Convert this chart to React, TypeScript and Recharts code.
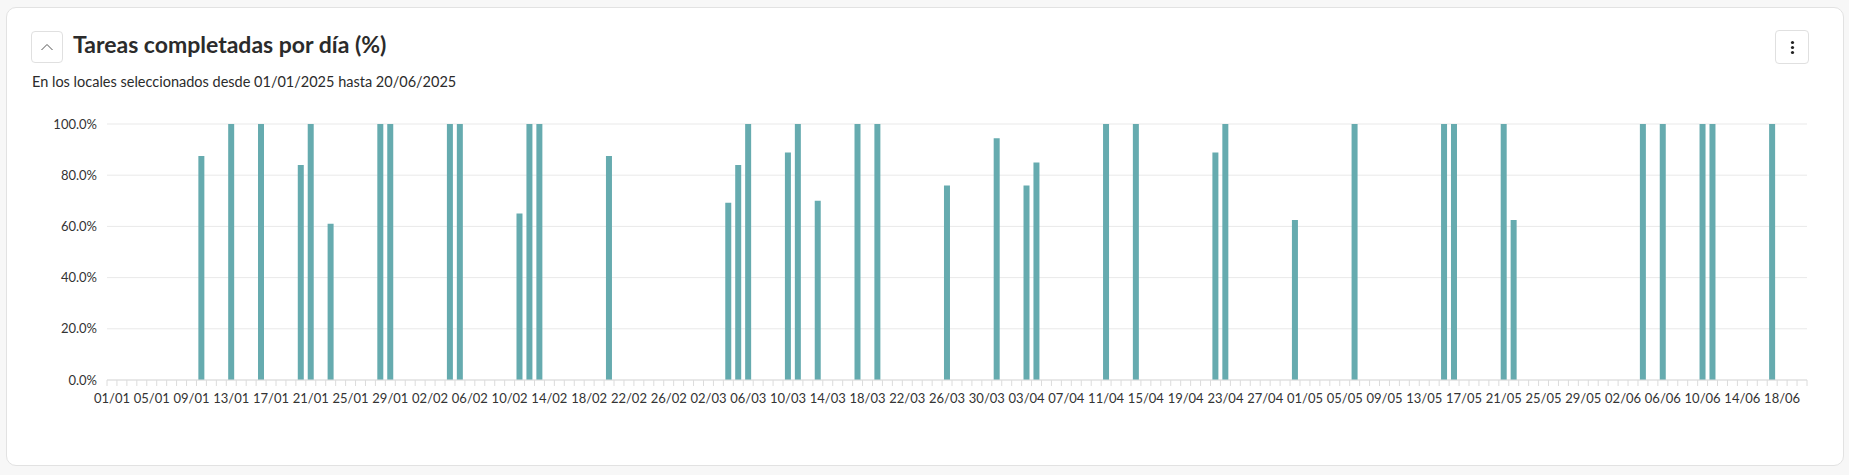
import React from "react";
import { BarChart, Bar, XAxis, YAxis, CartesianGrid } from "recharts";

const TITLE = "Tareas completadas por día (%)";
const SUBTITLE = "En los locales seleccionados desde 01/01/2025 hasta 20/06/2025";

const MONTHS = ["01", "02", "03", "04", "05", "06"];
const MONTH_DAYS = [31, 28, 31, 30, 31, 20];

const completedDays = [
  "10/01", "13/01", "16/01", "20/01", "21/01", "23/01", "28/01", "29/01",
  "04/02", "05/02", "11/02", "12/02", "13/02", "20/02",
  "04/03", "05/03", "06/03", "10/03", "11/03", "13/03", "17/03", "19/03", "26/03", "31/03",
  "03/04", "04/04", "11/04", "14/04", "22/04", "23/04", "30/04",
  "06/05", "15/05", "16/05", "21/05", "22/05",
  "04/06", "06/06", "10/06", "11/06", "17/06",
];
const completedValues = [
  87.5, 100, 100, 84, 100, 61, 100, 100,
  100, 100, 65, 100, 100, 87.5,
  69.2, 84, 100, 88.9, 100, 70, 100, 100, 76, 94.4,
  76, 85, 100, 100, 88.9, 100, 62.5,
  100, 100, 100, 100, 62.5,
  100, 100, 100, 100, 100,
];
const yTicks = [0, 20, 40, 60, 80, 100];

const categories: string[] = [];
MONTHS.forEach((m, mi) => {
  for (let d = 1; d <= MONTH_DAYS[mi]; d++) {
    categories.push(String(d).padStart(2, "0") + "/" + m);
  }
});

const data = categories.map((c) => {
  const k = completedDays.indexOf(c);
  return { day: c, value: k >= 0 ? completedValues[k] : null };
});

const W = 1849;
const H = 475;
const MARGIN = { top: 124, right: 42, bottom: 65, left: 47 };
const Y_W = 60;
const PLOT_W = W - MARGIN.left - MARGIN.right - Y_W;
const BAND = PLOT_W / categories.length;
const FONT = "Lato, 'Noto Sans', sans-serif";

const XTick = (props: any) => {
  const { x, y, payload } = props;
  const i = payload.index;
  const last = i === categories.length - 1;
  return (
    <g>
      <line x1={x - BAND / 2} x2={x - BAND / 2} y1={y} y2={y + 6} stroke="#dcdcdc" />
      {last && <line x1={x + BAND / 2} x2={x + BAND / 2} y1={y} y2={y + 6} stroke="#dcdcdc" />}
      {i % 4 === 0 && (
        <text x={x} y={y + 23} textAnchor="middle" fontSize={13} fill="#333" fontFamily={FONT}>
          {payload.value}
        </text>
      )}
    </g>
  );
};

export default function App() {
  return (
    <div style={{ position: "absolute", left: 0, top: 0, width: W, height: H, background: "#f7f7f7", overflow: "hidden", fontFamily: FONT }}>
      <div style={{ position: "absolute", left: 6, top: 7, width: 1836, height: 457, background: "#fff", border: "1px solid #e2e2e2", borderRadius: 10 }} />
      <div style={{ position: "absolute", left: 31, top: 31, width: 30, height: 30, border: "1px solid #e0e0e0", borderRadius: 4, background: "#fff" }}>
        <svg width={30} height={30} style={{ position: "absolute", left: 0, top: 0 }}>
          <polyline points="9.5,18 15,12.5 20.5,18" fill="none" stroke="#555" strokeWidth={1} />
        </svg>
      </div>
      <div style={{ position: "absolute", left: 73, top: 29, fontSize: 23, fontWeight: 700, color: "#2b2b2b", lineHeight: "30px", whiteSpace: "nowrap" }}>
        {TITLE}
      </div>
      <div style={{ position: "absolute", left: 32, top: 72, fontSize: 14.5, color: "#2b2b2b", lineHeight: "20px", whiteSpace: "nowrap" }}>
        {SUBTITLE}
      </div>
      <div style={{ position: "absolute", left: 1775, top: 30, width: 32, height: 32, border: "1px solid #e0e0e0", borderRadius: 4, background: "#fff" }}>
        <svg width={32} height={32} style={{ position: "absolute", left: 0, top: 0 }}>
          <circle cx={16.5} cy={11.5} r={1.6} fill="#222" />
          <circle cx={16.5} cy={16.5} r={1.6} fill="#222" />
          <circle cx={16.5} cy={21.5} r={1.6} fill="#222" />
        </svg>
      </div>
      <div style={{ position: "absolute", left: 0, top: 0 }}>
        <BarChart width={W} height={H} data={data} margin={MARGIN} barCategoryGap="19%">
          <CartesianGrid vertical={false} stroke="#e9e9e9" />
          <XAxis
            dataKey="day"
            interval={0}
            tickLine={false}
            tickSize={0}
            tickMargin={0}
            height={30}
            axisLine={{ stroke: "#dcdcdc" }}
            tick={<XTick />}
          />
          <YAxis
            width={Y_W}
            domain={[0, 100]}
            ticks={yTicks}
            axisLine={false}
            tickLine={false}
            tickSize={0}
            tickMargin={10}
            tickFormatter={(v: number) => v.toFixed(1) + "%"}
            tick={{ fontSize: 13, fill: "#333", fontFamily: FONT }}
          />
          <Bar dataKey="value" fill="#66abaf" isAnimationActive={false} />
        </BarChart>
      </div>
    </div>
  );
}
